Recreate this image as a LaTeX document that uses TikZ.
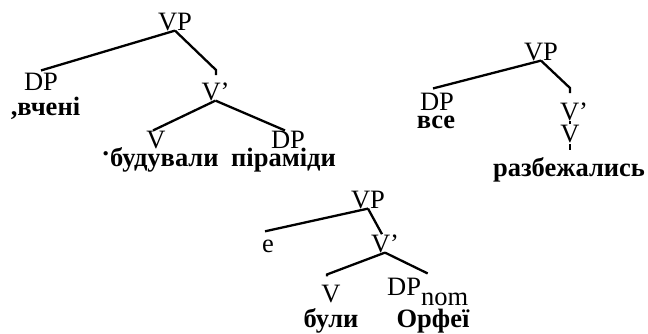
\documentclass[tikz,border=0pt]{standalone}
\usepackage{fontspec}
\setmainfont{Liberation Serif}
\begin{document}
\begin{tikzpicture}[x=1pt,y=-1pt,
  lab/.style={anchor=base,inner sep=0pt,font=\fontsize{26.5}{30}\selectfont},
  wrd/.style={anchor=base,inner sep=0pt,font=\fontsize{26.5}{30}\selectfont\bfseries},
  edge/.style={line width=2.3pt}]
\useasboundingbox (0,0) rectangle (648,333);
% Tree 1
\node[lab] (vp1) at (175,30) {VP};
\node[lab] (dp1) at (41,90) {DP};
\node[wrd] (w1) at (45.5,115) {,вчені};
\node[lab] (vb1) at (215.5,100) {V’};
\node[lab] (v1) at (156,148) {V};
\node[lab] (dp1b) at (288,148) {DP};
\node[wrd] (w2) at (160,166) {\raisebox{4pt}{·}будували};
\node[wrd] (w3) at (283.5,166) {піраміди};
\coordinate (t1) at (216,70);
\coordinate (t1a) at (216,75);
\draw[edge] (vp1.south) -- ([yshift=2pt]dp1.north);
\draw[edge] (vp1.south) -- (t1) -- (t1a);
\draw[edge] (vb1.south) -- ([xshift=-3pt]v1.north);
\draw[edge] (vb1.south) -- ([xshift=-3pt]dp1b.north);
% Tree 2
\node[lab] (vp2) at (541,60) {VP};
\node[lab] (dp2) at (437,110) {DP};
\node[wrd] (w4) at (436,128) {все};
\node[lab] (vb2) at (574,120) {V’};
\node[lab] (v2) at (570,142) {V};
\node[wrd] (w5) at (569,176) {разбежались};
\coordinate (t2) at (570,88);
\coordinate (t2a) at (570,93);
\coordinate (t2b) at (570,144);
\coordinate (t2c) at (570,150);
\draw[edge] (vp2.south) -- ([xshift=-4pt,yshift=4pt]dp2.north);
\draw[edge] (vp2.south) -- (t2) -- (t2a);
\draw[edge,dash pattern=on 2pt off 1pt] (v2.north) -- (v2.north |- vb2.south);
\draw[edge] (t2b) -- (t2c);
% Tree 3
\node[lab] (vp3) at (368,208) {VP};
\node[lab] (e3) at (268,252) {e};
\node[lab] (vb3) at (385,252) {V’};
\node[lab] (v3) at (331,302) {V};
\node[lab,anchor=base west] (dp3) at (387,295) {DP\raisebox{-10pt}{nom}};
\node[wrd] (w6) at (331,327) {були};
\node[wrd] (w7) at (433,327) {Орфеї};
\draw[edge] (vp3.south) -- ([xshift=-3pt,yshift=8pt]e3.north);
\draw[edge] (vp3.south) -- ([xshift=-3pt]vb3.north);
\draw[edge] (vb3.south) -- ([xshift=-4pt,yshift=10pt]v3.north) -- ++(0,2);
\draw[edge] (vb3.south) -- ([yshift=4pt]dp3.north);
\end{tikzpicture}
\end{document}
